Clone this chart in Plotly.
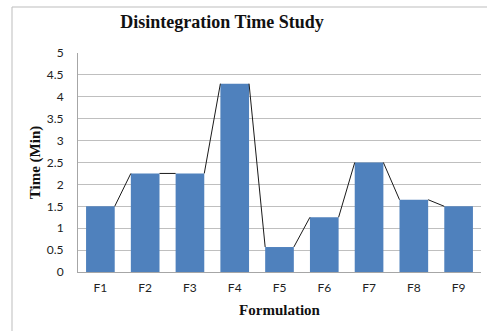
import plotly.graph_objects as go

categories = ["F1", "F2", "F3", "F4", "F5", "F6", "F7", "F8", "F9"]
times = [1.5, 2.25, 2.25, 4.3, 0.57, 1.25, 2.5, 1.65, 1.5]
y_ticks = [0, 0.5, 1, 1.5, 2, 2.5, 3, 3.5, 4, 4.5, 5]
y_ticklabels = ["0", "0.5", "1", "1.5", "2", "2.5", "3", "3.5", "4", "4.5", "5"]

BAR_W = 0.64
idx = list(range(len(categories)))

# connecting line between bar top corners (drawn in the gaps only)
lx, ly = [], []
for i in range(len(times) - 1):
    lx += [i + BAR_W / 2, i + 1 - BAR_W / 2, None]
    ly += [times[i], times[i + 1], None]

fig = go.Figure()
fig.add_trace(go.Bar(x=idx, y=times, width=BAR_W, marker=dict(color="#4F81BD", line=dict(width=0)),
                     showlegend=False))
fig.add_trace(go.Scatter(x=lx, y=ly, mode="lines", line=dict(color="#1a1a1a", width=1),
                         showlegend=False, connectgaps=False))

W, H = 487, 331
ml, mr, mt, mb = 78, 6, 53, 59
pw, ph = W - ml - mr, H - mt - mb

fig.update_layout(
    width=W, height=H,
    margin=dict(l=ml, r=mr, t=mt, b=mb),
    paper_bgcolor="white", plot_bgcolor="white",
    font=dict(family="Lato, Liberation Sans, sans-serif", size=12, color="#222"),
    title=dict(text="<b>Disintegration Time Study</b>", x=222 / W, xanchor="center",
               y=1 - 22 / H, yanchor="middle",
               font=dict(family="Liberation Serif, serif", size=18, color="#111")),
    xaxis=dict(range=[-0.5, len(categories) - 0.5], tickvals=idx, ticktext=categories,
               showgrid=False, zeroline=False, showline=True, linecolor="#a6a6a6", linewidth=1,
               ticks="", ticklabelstandoff=5, tickfont=dict(size=12, color="#222"),
               title=dict(text="<b>Formulation</b>", standoff=10,
                          font=dict(family="Liberation Serif, serif", size=15, color="#111"))),
    yaxis=dict(range=[0, 5], tickvals=y_ticks, ticktext=y_ticklabels,
               showgrid=True, gridcolor="#bfbfbf", gridwidth=1, zeroline=False,
               showline=True, linecolor="#a6a6a6", linewidth=1,
               ticks="", ticklabelstandoff=11,
               tickfont=dict(size=12, color="#222"),
               title=dict(text="<b>Time (Min)</b>", standoff=2,
                          font=dict(family="Liberation Serif, serif", size=15, color="#111"))),
    shapes=[dict(type="rect", xref="paper", yref="paper",
                 x0=(12 - ml) / pw, x1=(W + 5 - ml) / pw,
                 y0=-(H + 5 - mt - ph) / ph, y1=1 + (mt - 7) / ph,
                 line=dict(color="#bdbdbd", width=1), layer="below")],
)

fig.write_html("out.html")
